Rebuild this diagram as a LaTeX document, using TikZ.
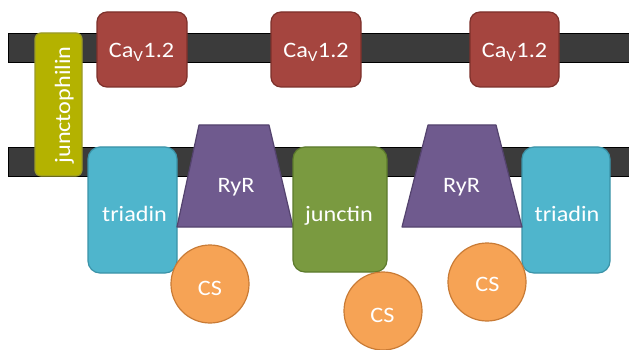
\documentclass[tikz,border=0pt]{standalone}
\usepackage{fontspec}
\setmainfont{Carlito}[FakeStretch=1.1]
\begin{document}
\begin{tikzpicture}[x=1pt,y=-1pt,
  lbl/.style={text=white,font=\fontsize{22}{24}\selectfont,anchor=base,inner sep=0pt},
  membrane/.style={fill=black!77},
  edge/.style={black,line width=0.8pt},
  protbox/.style={line width=1.2pt},
  cav/.style={protbox,fill=cavred,draw=cavredd,rounded corners=10pt},
  tri/.style={protbox,fill=triblue,draw=tribluedd,rounded corners=12pt},
  ryr/.style={protbox,fill=ryrpur,draw=ryrpurd,line join=round},
  cs/.style={protbox,fill=csorange,draw=csoranged}]
\definecolor{cavred}{HTML}{A5453F}
\definecolor{cavredd}{HTML}{7D302B}
\definecolor{jphol}{HTML}{B4B200}
\definecolor{jphold}{HTML}{9A9A28}
\definecolor{triblue}{HTML}{4FB5CC}
\definecolor{tribluedd}{HTML}{3B93A8}
\definecolor{ryrpur}{HTML}{6F5A8E}
\definecolor{ryrpurd}{HTML}{54436E}
\definecolor{jcgreen}{HTML}{7A9A40}
\definecolor{jcgreend}{HTML}{5C7A2C}
\definecolor{csorange}{HTML}{F6A355}
\definecolor{csoranged}{HTML}{C97B35}
\useasboundingbox[fill=white] (0,0) rectangle (629,350);

% membranes
\fill[membrane] (8,33) rectangle (629,62);
\fill[membrane] (8,147) rectangle (629,176);
\draw[edge] (629,33) -- (8,33) -- (8,62) -- (629,62);
\draw[edge] (629,147) -- (8,147) -- (8,176) -- (629,176);

% junctophilin spanning both membranes
\draw[protbox,fill=jphol,draw=jphold,rounded corners=6pt] (35,33) rectangle (82,176);
\node[lbl,rotate=90] (jph) at (70,105) {junctophilin};

% triadins
\draw[tri] (88,147) rectangle (177,273);
\node[lbl] (tri1) at (134.5,221.5) {triadin};
\draw[tri] (522,147) rectangle (610,273);
\node[lbl] (tri2) at (567,221.5) {triadin};

% ryanodine receptors
\draw[ryr] (199,125) -- (269,125) -- (293,227) -- (177,227) -- cycle;
\node[lbl] (ryr1) at (236,192) {RyR};
\draw[ryr] (428,125) -- (496,125) -- (522,227) -- (402,227) -- cycle;
\node[lbl] (ryr2) at (461.5,192) {RyR};

% junctin
\draw[protbox,fill=jcgreen,draw=jcgreend,rounded corners=12pt] (293,147) rectangle (387,272);
\node[lbl] (jct) at (339,221.5) {junctin};

% calsequestrin
\draw[cs] (210,284) circle (39);
\node[lbl] (cs1) at (210,295) {CS};
\draw[cs] (383,311) circle (39);
\node[lbl] (cs2) at (382.5,322) {CS};
\draw[cs] (487,282) circle (39);
\node[lbl] (cs3) at (487.5,291.5) {CS};

% L-type calcium channels
\draw[cav] (97,12) rectangle (187,87);
\node[lbl] (cav1) at (141.5,58) {Ca\textsubscript{V}1.2};
\draw[cav] (271,12) rectangle (361,87);
\node[lbl] (cav2) at (316,58) {Ca\textsubscript{V}1.2};
\draw[cav] (470,12) rectangle (559,87);
\node[lbl] (cav3) at (514.5,58) {Ca\textsubscript{V}1.2};
\end{tikzpicture}
\end{document}
